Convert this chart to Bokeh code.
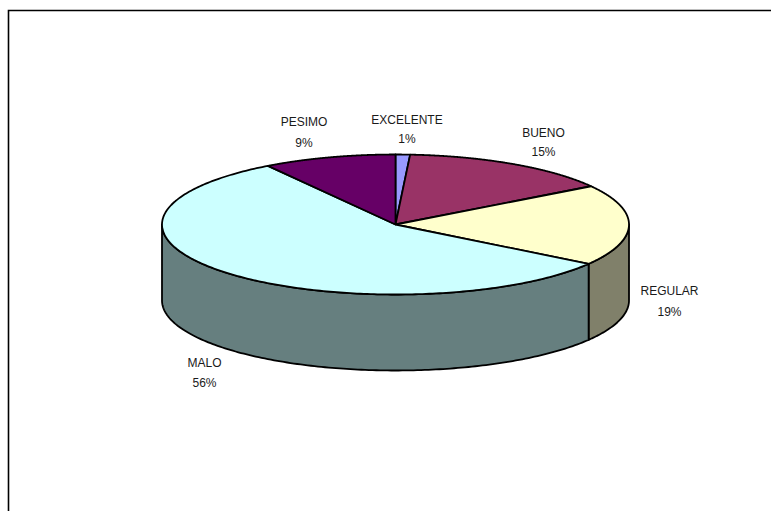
import numpy as np
from bokeh.plotting import figure
from bokeh.models import Range1d
from bokeh.embed import file_html
from bokeh.resources import INLINE

# Data
categories = ["EXCELENTE", "BUENO", "REGULAR", "MALO", "PESIMO"]
values = [1.0, 14.8, 18.7, 56.3, 9.2]
labels = ["1%", "15%", "19%", "56%", "9%"]
top_colors = ["#9999FF", "#993366", "#FFFFCC", "#CCFFFF", "#660066"]
side_colors = ["#6B6BB3", "#6B2447", "#80806A", "#667F7F", "#470047"]

# Layout (page pixels)
W, H = 771, 511
cx, cy, rx, ry, depth = 395, 224, 233.5, 70, 76
label_pos = {"EXCELENTE": (406.5, 119, 138), "BUENO": (543, 132, 151), "REGULAR": (669, 290, 311),
             "MALO": (204, 362, 382), "PESIMO": (303.5, 121, 142)}
line = "#000000"

p = figure(width=W, height=H, x_range=Range1d(0, W), y_range=Range1d(H, 0),
           toolbar_location=None, output_backend="svg", min_border=0,
           outline_line_color=None, background_fill_color="white", border_fill_color="white")
p.axis.visible = False
p.grid.visible = False

# chart frame (left and top only)
p.line([8, 8, W], [H, 10, 10], line_color=line, line_width=1.6, line_join="miter")

fr = np.array(values) / sum(values)
edges = np.concatenate([[0], np.cumsum(fr)]) * 2 * np.pi

def pt(t, dz=0.0):
    return cx + rx * np.sin(t), cy - ry * np.cos(t) + dz

# walls: only the part of the rim facing the viewer
for i in range(len(values)):
    a, b = max(edges[i], np.pi / 2), min(edges[i + 1], 3 * np.pi / 2)
    if b <= a:
        continue
    t = np.linspace(a, b, 160)
    x0, y0 = pt(t)
    x1, y1 = pt(t[::-1], depth)
    p.patch(np.r_[x0, x1], np.r_[y0, y1], fill_color=side_colors[i],
            line_color=line, line_width=1.8, line_join="round")

# top faces
for i in range(len(values)):
    t = np.linspace(edges[i], edges[i + 1], 240)
    x0, y0 = pt(t)
    p.patch(np.r_[cx, x0], np.r_[cy, y0], fill_color=top_colors[i],
            line_color=line, line_width=1.8, line_join="round")

# labels
for c, l in zip(categories, labels):
    x, y, y2 = label_pos[c]
    p.text([x], [y], text=[c], text_align="center", text_baseline="middle",
           text_font_size="9pt", text_color="#1A1A1A", text_font={"value": "Liberation Sans"})
    p.text([x], [y2], text=[l], text_align="center", text_baseline="middle",
           text_font_size="9pt", text_color="#1A1A1A", text_font={"value": "Liberation Sans"})

open("out.html", "w").write(file_html(p, INLINE))
